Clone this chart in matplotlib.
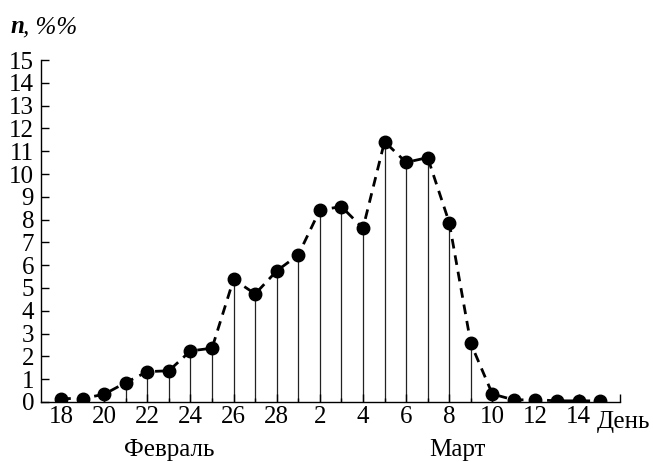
import matplotlib
matplotlib.use("Agg")
import matplotlib.pyplot as plt
import numpy as np

plt.rcParams['font.family'] = ['Liberation Serif', 'DejaVu Serif']

days = [18, 19, 20, 21, 22, 23, 24, 25, 26, 27, 28,
        1, 2, 3, 4, 5, 6, 7, 8, 9, 10, 11, 12, 13, 14, 15]
values = [0.15, 0.15, 0.34, 0.85, 1.33, 1.37, 2.24, 2.36, 5.38, 4.74, 5.75,
          6.45, 8.42, 8.57, 7.62, 11.42, 10.51, 10.72, 7.87, 2.57, 0.35,
          0.09, 0.10, 0.05, 0.05, 0.05]
y_ticks = list(range(0, 16))
month_labels = ['Февраль', 'Март']

x = np.arange(len(days))
FS = 18

fig = plt.figure(figsize=(6.53, 4.62), dpi=100)
ax = fig.add_axes([0.0628, 0.1299, 0.9495 - 0.0628, 0.8701 - 0.1299])

ax.vlines(x, 0, values, colors='#222222', linewidth=0.9, zorder=1)
ax.plot(x, values, linestyle=(0, (3.5, 2.5)), color='black', linewidth=2.0,
        marker='o', markersize=9, markerfacecolor='black', markeredgecolor='black', zorder=3)

ax.set_xlim(-0.93, 25.92)
ax.set_ylim(0, 15)
for s in ['top', 'right']:
    ax.spines[s].set_visible(False)
ax.spines['left'].set_linewidth(1.0)
ax.spines['bottom'].set_linewidth(1.0)

ax.set_yticks(y_ticks)
ax.set_yticklabels([str(v) for v in y_ticks], fontsize=FS)
ax.tick_params(axis='y', direction='in', length=6, width=1.0, pad=5)

major = list(x[::2])
ax.set_xticks(x, minor=True)
ax.tick_params(axis='x', which='minor', direction='in', length=3, width=1.0)
ax.set_xticks(major + [25.92])
ax.set_xticklabels([str(days[i]) for i in major] + [''], fontsize=FS)
ax.tick_params(axis='x', which='major', direction='in', length=6, width=1.0, pad=3)

ax.text(24.85, -0.88, 'День', fontsize=FS, ha='left', va='center')
ax.text(5, -2.57, month_labels[0], fontsize=FS, ha='center', va='bottom')
ax.text(18.4, -2.57, month_labels[1], fontsize=FS, ha='center', va='bottom')

fig.text(10 / 653, 1 - 33 / 462, 'n', fontsize=FS, ha='left', va='baseline',
         style='italic', weight='bold')
fig.text(23 / 653, 1 - 33 / 462, ', %%', fontsize=FS, ha='left', va='baseline',
         style='italic')

fig.savefig('out.png', dpi=100)
